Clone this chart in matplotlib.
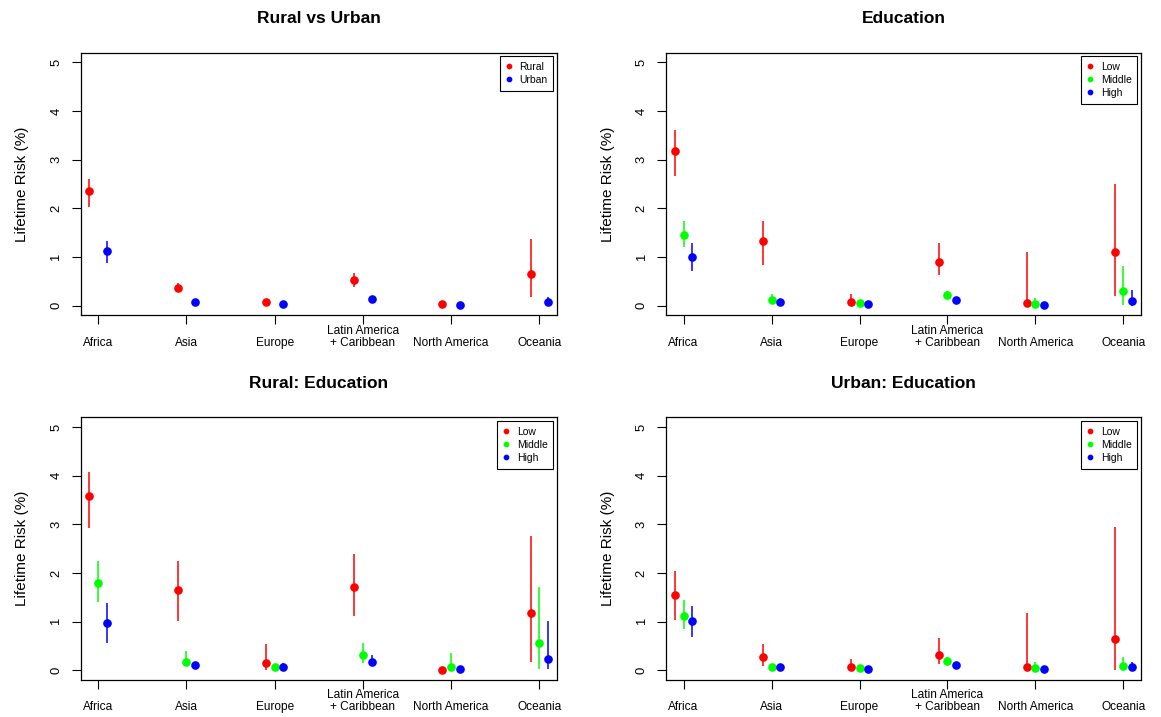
import numpy as np
import matplotlib
matplotlib.use("Agg")
import matplotlib.pyplot as plt

plt.rcParams['font.family'] = ['Liberation Sans', 'DejaVu Sans']

regions = ["Africa", "Asia", "Europe", "Latin America\n+ Caribbean", "North America", "Oceania"]

# Rural vs Urban
rural = [2.36, 0.37, 0.07, 0.53, 0.035, 0.64]
rural_lo = [2.02, 0.29, 0.05, 0.39, 0.02, 0.18]
rural_hi = [2.60, 0.46, 0.10, 0.66, 0.06, 1.37]
urban = [1.12, 0.07, 0.035, 0.14, 0.02, 0.075]
urban_lo = [0.88, 0.05, 0.02, 0.11, 0.01, 0.02]
urban_hi = [1.32, 0.09, 0.05, 0.18, 0.03, 0.18]

# Education
edu_low = [3.18, 1.32, 0.08, 0.90, 0.055, 1.11]
edu_low_lo = [2.66, 0.83, 0.0, 0.63, 0.0, 0.20]
edu_low_hi = [3.61, 1.74, 0.24, 1.29, 1.10, 2.49]
edu_mid = [1.45, 0.12, 0.055, 0.21, 0.04, 0.29]
edu_mid_lo = [1.21, 0.05, 0.03, 0.14, 0.0, 0.01]
edu_mid_hi = [1.73, 0.24, 0.08, 0.30, 0.16, 0.82]
edu_high = [1.0, 0.075, 0.04, 0.12, 0.02, 0.10]
edu_high_lo = [0.72, 0.05, 0.02, 0.09, 0.01, 0.0]
edu_high_hi = [1.28, 0.10, 0.06, 0.15, 0.03, 0.31]

# Rural: Education
r_low = [3.59, 1.64, 0.14, 1.72, 0.01, 1.17]
r_low_lo = [2.93, 1.02, 0.0, 1.12, 0.0, 0.18]
r_low_hi = [4.08, 2.25, 0.55, 2.40, 0.03, 2.76]
r_mid = [1.79, 0.18, 0.07, 0.31, 0.07, 0.57]
r_mid_lo = [1.40, 0.08, 0.04, 0.14, 0.0, 0.03]
r_mid_hi = [2.24, 0.39, 0.10, 0.56, 0.35, 1.72]
r_high = [0.98, 0.10, 0.07, 0.17, 0.03, 0.24]
r_high_lo = [0.57, 0.07, 0.02, 0.08, 0.01, 0.02]
r_high_hi = [1.39, 0.13, 0.15, 0.31, 0.05, 1.02]

# Urban: Education
u_low = [1.54, 0.27, 0.07, 0.31, 0.07, 0.64]
u_low_lo = [1.04, 0.08, 0.0, 0.12, 0.0, 0.0]
u_low_hi = [2.05, 0.53, 0.24, 0.66, 1.18, 2.94]
u_mid = [1.12, 0.07, 0.055, 0.19, 0.04, 0.09]
u_mid_lo = [0.85, 0.04, 0.03, 0.12, 0.0, 0.01]
u_mid_hi = [1.44, 0.12, 0.08, 0.27, 0.17, 0.28]
u_high = [1.01, 0.07, 0.035, 0.11, 0.025, 0.065]
u_high_lo = [0.69, 0.05, 0.02, 0.08, 0.01, 0.0]
u_high_hi = [1.33, 0.09, 0.05, 0.14, 0.04, 0.17]

RED, GREEN, BLUE = "#FF0000", "#00FF00", "#0000FF"

W, H = 1161, 717
fig = plt.figure(figsize=(W / 100, H / 100), dpi=100)


def rect(x0, x1, y0, y1):
    return [x0 / W, 1 - y1 / H, (x1 - x0) / W, (y1 - y0) / H]


def panel(box, title, series, offsets):
    ax = fig.add_axes(rect(*box))
    x = np.arange(1, len(regions) + 1)
    for (label, col, est, lo, hi), off in zip(series, offsets):
        ax.vlines(x + off, lo, hi, color=col, lw=1.1)
        ax.plot(x + off, est, "o", color=col, ms=5.2, mec=col, label=label)
    ax.set_xlim(0.8, 6.2)
    ax.set_ylim(-0.2, 5.2)
    ax.set_xticks(x)
    ax.set_xticklabels(regions, fontsize=8.6, linespacing=1.0)
    for lbl in ax.get_xticklabels():
        lbl.set_va("bottom")
    ax.set_yticks(range(6))
    ax.set_yticklabels([str(v) for v in range(6)], fontsize=9.4,
                       rotation=90, va="center")
    ax.tick_params(axis="x", length=6.5, width=0.8, pad=17.5)
    ax.tick_params(axis="y", length=6.5, width=0.8, pad=6.6)
    for s in ax.spines.values():
        s.set_linewidth(0.9)
    ax.set_ylabel("Lifetime Risk (%)", fontsize=11, labelpad=15)
    ax.set_title(title, fontsize=12.5, fontweight="bold", pad=21)
    ax.legend(loc="upper right", fontsize=7.5, frameon=True, fancybox=False,
              edgecolor="black", framealpha=1, borderaxespad=0.35,
              handlelength=0.6, handletextpad=0.7, labelspacing=0.3,
              borderpad=0.55, markerscale=0.6)
    ax.get_legend().get_frame().set_linewidth(0.8)
    return ax


two = [-0.1, 0.1]
three = [-0.1, 0.0, 0.1]

panel((80.5, 557, 52.5, 315.3), "Rural vs Urban",
      [("Rural", RED, rural, rural_lo, rural_hi),
       ("Urban", BLUE, urban, urban_lo, urban_hi)], two)

panel((666, 1141, 52.5, 315.3), "Education",
      [("Low", RED, edu_low, edu_low_lo, edu_low_hi),
       ("Middle", GREEN, edu_mid, edu_mid_lo, edu_mid_hi),
       ("High", BLUE, edu_high, edu_high_lo, edu_high_hi)], three)

panel((80.5, 557, 417.3, 680), "Rural: Education",
      [("Low", RED, r_low, r_low_lo, r_low_hi),
       ("Middle", GREEN, r_mid, r_mid_lo, r_mid_hi),
       ("High", BLUE, r_high, r_high_lo, r_high_hi)], three)

panel((666, 1141, 417.3, 680), "Urban: Education",
      [("Low", RED, u_low, u_low_lo, u_low_hi),
       ("Middle", GREEN, u_mid, u_mid_lo, u_mid_hi),
       ("High", BLUE, u_high, u_high_lo, u_high_hi)], three)

fig.savefig("out.png", dpi=100)
